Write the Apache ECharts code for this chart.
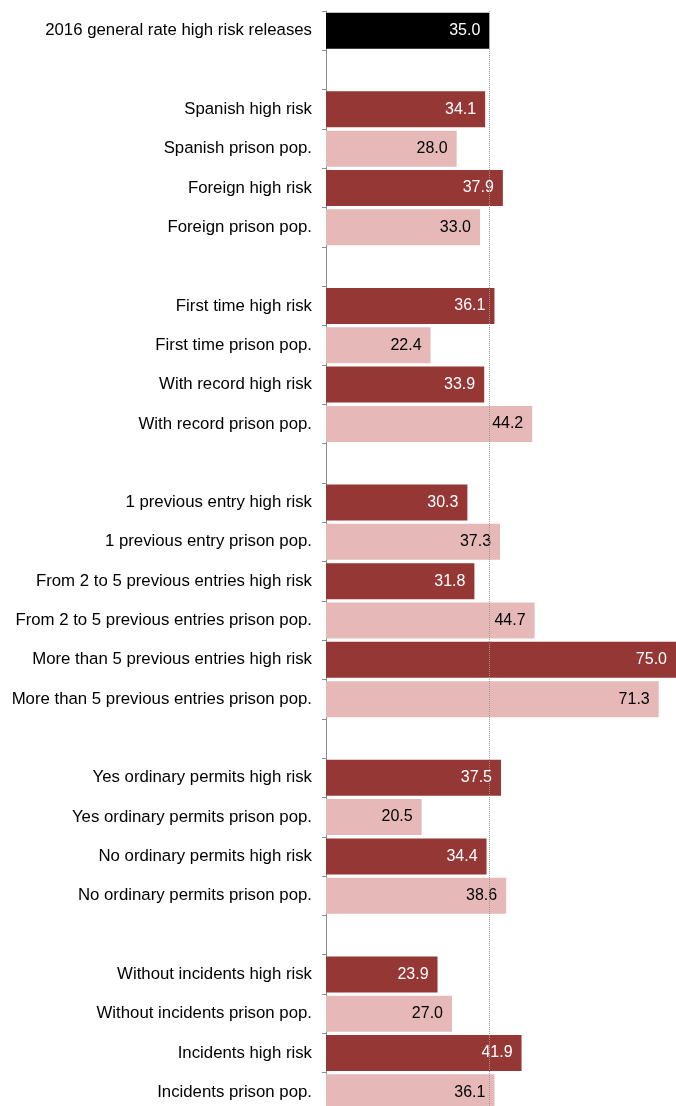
<!DOCTYPE html>
<html>
<head>
<meta charset="utf-8">
<script src="https://cdn.jsdelivr.net/npm/echarts@6/dist/echarts.min.js"></script>
<style>
  html, body { margin: 0; padding: 0; background: #fff; }
  #chart { width: 676px; height: 1106px; }
</style>
</head>
<body>
<div id="chart"></div>
<script>
// Row labels, top to bottom; blank strings are spacer rows between groups
const categories = [
  '2016 general rate high risk releases',
  ' ',
  'Spanish high risk',
  'Spanish prison pop.',
  'Foreign high risk',
  'Foreign prison pop.',
  '  ',
  'First time high risk',
  'First time prison pop.',
  'With record high risk',
  'With record prison pop.',
  '   ',
  '1 previous entry high risk',
  '1 previous entry prison pop.',
  'From 2 to 5 previous entries high risk',
  'From 2 to 5 previous entries prison pop.',
  'More than 5 previous entries high risk',
  'More than 5 previous entries prison pop.',
  '    ',
  'Yes ordinary permits high risk',
  'Yes ordinary permits prison pop.',
  'No ordinary permits high risk',
  'No ordinary permits prison pop.',
  '     ',
  'Without incidents high risk',
  'Without incidents prison pop.',
  'Incidents high risk',
  'Incidents prison pop.'
];

// Percentages per row (null for spacer rows)
const values = [
  35.0, null,
  34.1, 28.0, 37.9, 33.0, null,
  36.1, 22.4, 33.9, 44.2, null,
  30.3, 37.3, 31.8, 44.7, 75.0, 71.3, null,
  37.5, 20.5, 34.4, 38.6, null,
  23.9, 27.0, 41.9, 36.1
];

// Bar kind per row: general rate, high-risk group, prison population
const kinds = [
  'total', null,
  'risk', 'pop', 'risk', 'pop', null,
  'risk', 'pop', 'risk', 'pop', null,
  'risk', 'pop', 'risk', 'pop', 'risk', 'pop', null,
  'risk', 'pop', 'risk', 'pop', null,
  'risk', 'pop', 'risk', 'pop'
];

const generalRate = 35.0;

const fill = { total: '#000000', risk: '#953735', pop: '#E6B9B8' };
const ink = { total: '#ffffff', risk: '#ffffff', pop: '#000000' };

const seriesData = values.map((v, i) => v === null ? null : {
  value: v,
  itemStyle: { color: fill[kinds[i]] },
  label: { color: ink[kinds[i]] }
});

const chart = echarts.init(document.getElementById('chart'), null, { renderer: 'canvas' });
chart.setOption({
  animation: false,
  grid: {
    left: 326, right: 0, top: 11, height: 1101,
    containLabel: false,
    outerBoundsMode: 'none'
  },
  xAxis: {
    type: 'value',
    min: 0,
    max: 75,
    show: false,
    splitLine: { show: false }
  },
  yAxis: {
    type: 'category',
    inverse: true,
    data: categories,
    axisLine: { show: true, lineStyle: { color: '#8c8c8c', width: 1 } },
    axisTick: { show: true, length: 4, lineStyle: { color: '#8c8c8c' } },
    axisLabel: {
      color: '#000',
      fontFamily: 'Liberation Sans, Arial, sans-serif',
      fontSize: 16.8,
      margin: 14
    }
  },
  series: [{
    type: 'bar',
    data: seriesData,
    barWidth: 36,
    label: {
      show: true,
      position: 'insideRight',
      distance: 9,
      fontFamily: 'Liberation Sans, Arial, sans-serif',
      fontSize: 16,
      formatter: p => p.value.toFixed(1)
    },
    markLine: {
      silent: true,
      symbol: 'none',
      label: { show: false },
      lineStyle: { color: '#9a9a9a', type: 'dotted', width: 1 },
      data: [{ xAxis: generalRate }]
    },
    z: 2
  }]
});
</script>
</body>
</html>
